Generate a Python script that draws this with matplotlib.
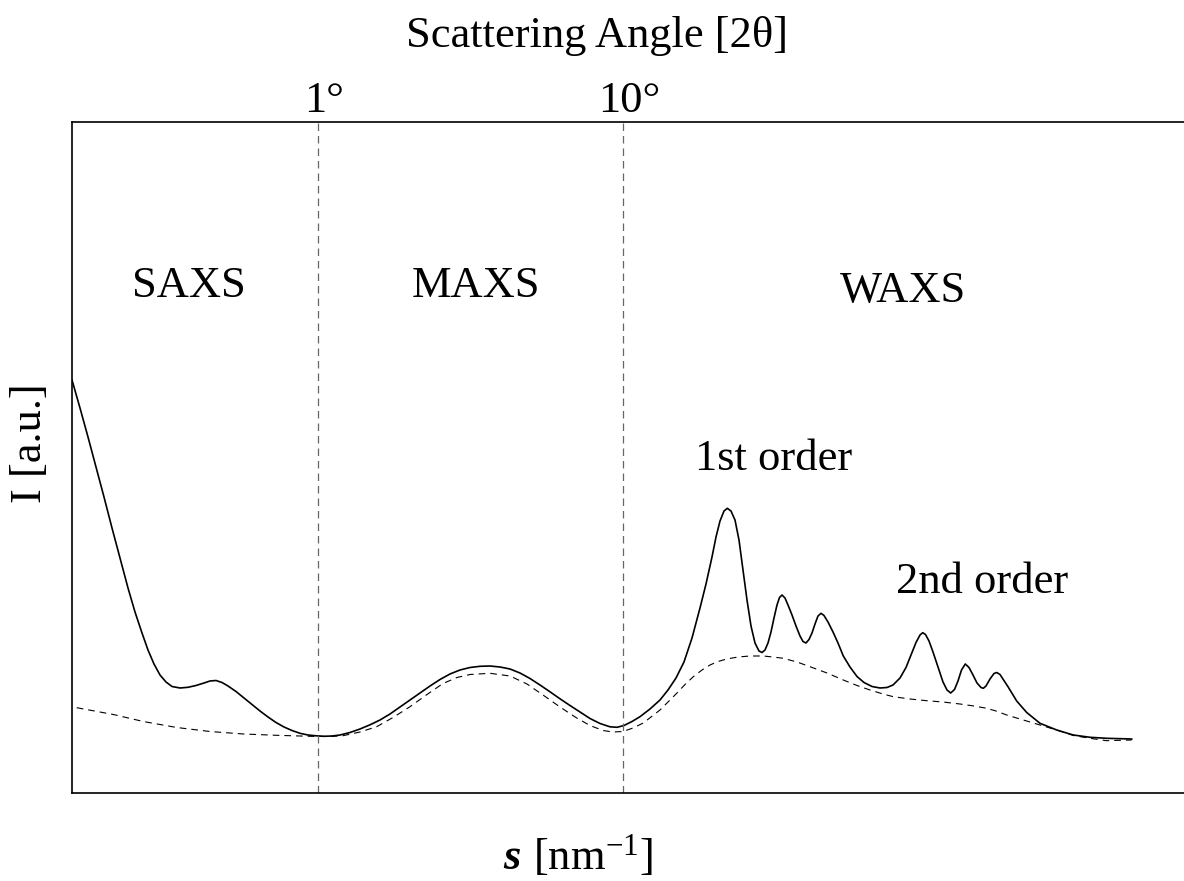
import matplotlib
matplotlib.use("Agg")
import matplotlib.pyplot as plt

plt.rcParams['font.family'] = ['Liberation Serif', 'DejaVu Serif']
plt.rcParams['mathtext.fontset'] = 'custom'
plt.rcParams['mathtext.rm'] = 'Liberation Serif'
plt.rcParams['mathtext.it'] = 'Liberation Serif:italic'

s_meas = [0.00, 0.08, 0.16, 0.24, 0.32, 0.40, 0.48, 0.56, 0.63, 0.70,
          0.76, 0.82, 0.88, 0.94, 1.00, 1.08, 1.16, 1.24, 1.32, 1.38,
          1.44, 1.50, 1.56, 1.64, 1.72, 1.80, 1.88, 1.96, 2.04, 2.12,
          2.20, 2.28, 2.36, 2.44, 2.52, 2.60, 2.68, 2.78, 2.88, 2.98,
          3.08, 3.18, 3.28, 3.38, 3.48, 3.58, 3.68, 3.78, 3.88, 3.98,
          4.08, 4.18, 4.28, 4.38, 4.48, 4.58, 4.68, 4.78, 4.88, 4.98,
          5.08, 5.18, 5.28, 5.38, 5.45, 5.52, 5.60, 5.68, 5.78, 5.88,
          5.96, 6.04, 6.12, 6.20, 6.28, 6.34, 6.40, 6.44, 6.48, 6.52,
          6.553, 6.59, 6.63, 6.67, 6.71, 6.75, 6.79, 6.83, 6.87, 6.90,
          6.93, 6.96, 6.99, 7.02, 7.05, 7.075, 7.10, 7.13, 7.16, 7.20,
          7.24, 7.28, 7.31, 7.34, 7.37, 7.40, 7.43, 7.46, 7.49, 7.52,
          7.56, 7.61, 7.66, 7.713, 7.78, 7.85, 7.92, 8.00, 8.08, 8.15,
          8.21, 8.28, 8.34, 8.39, 8.44, 8.48, 8.507, 8.535, 8.57, 8.61,
          8.66, 8.71, 8.75, 8.787, 8.825, 8.86, 8.895, 8.933, 8.97, 9.01,
          9.05, 9.09, 9.113, 9.14, 9.18, 9.22, 9.247, 9.28, 9.36, 9.447,
          9.547, 9.68, 9.847, 10.013, 10.18, 10.347, 10.597]
I_meas = [4.13, 3.85, 3.56, 3.26, 2.96, 2.65, 2.35, 2.05, 1.81, 1.60,
          1.43, 1.29, 1.18, 1.11, 1.065, 1.05, 1.057, 1.075, 1.10, 1.12,
          1.125, 1.105, 1.07, 1.015, 0.95, 0.885, 0.82, 0.76, 0.705, 0.66,
          0.625, 0.597, 0.58, 0.572, 0.567, 0.57, 0.58, 0.605, 0.64, 0.682,
          0.73, 0.79, 0.86, 0.93, 1.00, 1.07, 1.135, 1.19, 1.23, 1.255,
          1.267, 1.27, 1.26, 1.24, 1.20, 1.145, 1.08, 1.012, 0.942, 0.875,
          0.81, 0.745, 0.695, 0.662, 0.657, 0.675, 0.715, 0.763, 0.84, 0.93,
          1.03, 1.15, 1.31, 1.55, 1.85, 2.09, 2.36, 2.56, 2.72, 2.82,
          2.847, 2.82, 2.73, 2.53, 2.23, 1.93, 1.67, 1.50, 1.42, 1.405,
          1.43, 1.50, 1.61, 1.75, 1.88, 1.955, 1.98, 1.95, 1.88, 1.78,
          1.67, 1.57, 1.515, 1.50, 1.535, 1.60, 1.69, 1.77, 1.797, 1.775,
          1.71, 1.61, 1.50, 1.37, 1.26, 1.165, 1.105, 1.065, 1.05, 1.055,
          1.08, 1.15, 1.255, 1.38, 1.505, 1.58, 1.603, 1.585, 1.52, 1.41,
          1.26, 1.11, 1.03, 1.00, 1.035, 1.12, 1.23, 1.29, 1.255, 1.18,
          1.10, 1.055, 1.047, 1.07, 1.14, 1.195, 1.205, 1.185, 1.063, 0.92,
          0.805, 0.697, 0.63, 0.58, 0.557, 0.547, 0.54]

# background (dashed)
s_bg = [0.047, 0.413, 0.713, 1.047, 1.38, 1.713, 2.047, 2.38, 2.58, 2.71,
        2.88, 3.047, 3.21, 3.38, 3.55, 3.71, 3.85, 3.98, 4.18, 4.38,
        4.55, 4.71, 4.88, 5.047, 5.18, 5.31, 5.41, 5.51, 5.61, 5.713,
        5.79, 5.88, 5.96, 6.047, 6.13, 6.213, 6.30, 6.38, 6.46, 6.547,
        6.66, 6.78, 6.913, 7.01, 7.113, 7.25, 7.38, 7.55, 7.713, 7.85,
        7.98, 8.11, 8.213, 8.38, 8.547, 8.71, 8.88, 9.02, 9.147, 9.24,
        9.347, 9.513, 9.68, 9.847, 10.013, 10.18, 10.347, 10.51, 10.597]
I_bg = [0.853, 0.785, 0.715, 0.655, 0.615, 0.59, 0.577, 0.567, 0.565, 0.573,
        0.61, 0.663, 0.755, 0.863, 0.985, 1.095, 1.155, 1.185, 1.197, 1.17,
        1.09, 0.98, 0.86, 0.75, 0.675, 0.625, 0.61, 0.615, 0.65, 0.70,
        0.76, 0.83, 0.91, 0.997, 1.085, 1.163, 1.23, 1.28, 1.315, 1.34,
        1.36, 1.37, 1.37, 1.36, 1.347, 1.31, 1.263, 1.20, 1.13, 1.075,
        1.03, 0.99, 0.963, 0.94, 0.923, 0.91, 0.89, 0.87, 0.847, 0.82,
        0.78, 0.73, 0.68, 0.63, 0.575, 0.547, 0.523, 0.528, 0.53]

# region boundaries and their angle labels
bound_s = [2.46, 5.51]
bound_labels = ['1°', '10°']

regions = ['SAXS', 'MAXS', 'WAXS']
region_s = [1.17, 4.04, 8.31]
region_I = [4.96, 4.96, 4.91]

peak_labels = ['1st order', '2nd order']
peak_s = [7.02, 9.10]
peak_I = [3.23, 2.00]

fig = plt.figure(figsize=(11.84, 8.81), dpi=100)
ax = fig.add_axes([72/1184, 88/881, 1 - 72/1184, 671/881])

ax.plot(s_meas, I_meas, color='black', lw=1.2, solid_joinstyle='round')
ax.plot(s_bg, I_bg, color='black', lw=0.8, dashes=(6, 4.5))

for b in bound_s:
    ax.axvline(b, color='#666666', lw=0.9, dashes=(6, 4))

ax.set_xlim(0, 11.12)
ax.set_ylim(0, 6.71)
ax.set_xticks([])
ax.set_yticks([])
ax.spines['right'].set_visible(False)
for sp in ['left', 'top', 'bottom']:
    ax.spines[sp].set_linewidth(1.2)

fs = 32
for b, lab in zip(bound_s, bound_labels):
    ax.text(b + 0.06, 6.81, lab, ha='center', va='baseline', fontsize=fs)

for name, x, y in zip(regions, region_s, region_I):
    ax.text(x, y, name, ha='center', va='baseline', fontsize=fs)

for name, x, y in zip(peak_labels, peak_s, peak_I):
    ax.text(x, y, name, ha='center', va='baseline', fontsize=fs)

fig.text(597/1184, 1 - 47/881, 'Scattering Angle [2θ]', ha='center',
         va='baseline', fontsize=fs)
fig.text(30/1184, 1 - 443/881, 'I [a.u.]', rotation=90,
         ha='center', va='center', fontsize=fs)
# x label: bold italic s followed by the unit
fig.text(512/1184, 1 - 869/881, 's', ha='center', va='baseline',
         fontsize=fs, fontweight='bold', fontstyle='italic')
fig.text(533/1184, 1 - 869/881, '[nm$^{-1}$]', ha='left', va='baseline',
         fontsize=fs)

fig.savefig('out.png', dpi=100)
